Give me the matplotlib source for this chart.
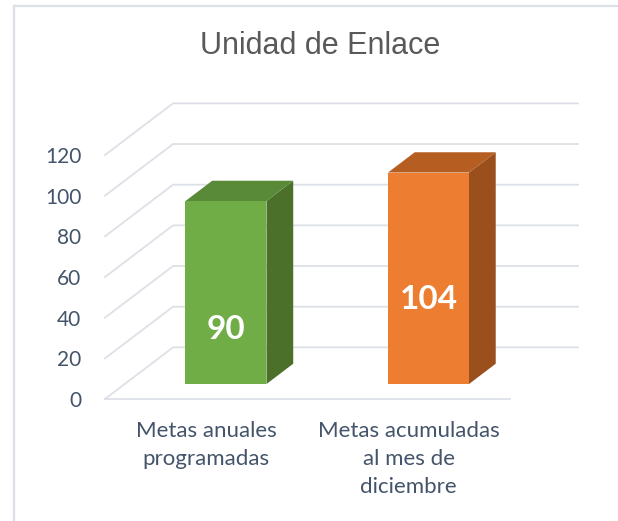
import matplotlib
matplotlib.use("Agg")
import matplotlib.pyplot as plt
from matplotlib.patches import Polygon

# data
categories = ["Metas anuales\nprogramadas", "Metas acumuladas\nal mes de\ndiciembre"]
values = [90, 104]
yticks = [0, 20, 40, 60, 80, 100, 120]
title = "Unidad de Enlace"

# colours: front, top, side
front_cols = ["#70AD47", "#ED7D31"]
top_cols = ["#588A37", "#B65E22"]
side_cols = ["#4A7029", "#9A4F1D"]
grid_col = "#DDE1E7"
text_col = "#44546A"

# fake 3d: point at depth d moves by (d*DX, d*DY) in data units
DX, DY = 0.336, 25.4
BAR_W = 0.40
D_FRONT, D_BACK = 0.29, 0.683
label_frac = [0.30, 0.40]


def p(x, y, d):
    return (x + d * DX, y + d * DY)


fig = plt.figure(figsize=(6.18, 5.21), dpi=100)
ax = fig.add_axes([105 / 618, 122 / 521, 405 / 618, 244 / 521])
ax.set_xlim(-0.5, 1.5)
ax.set_ylim(0, 120)
for s in ax.spines.values():
    s.set_visible(False)

# gridlines: side diagonal + back wall
for v in yticks:
    x0 = -0.5
    ax.plot([p(x0, v, 0)[0], p(x0, v, 1)[0], p(1.5, v, 1)[0]],
            [p(x0, v, 0)[1], p(x0, v, 1)[1], p(1.5, v, 1)[1]],
            color=grid_col, lw=1.3, clip_on=False, zorder=1,
            solid_joinstyle="miter")
# floor front edge
ax.plot([-0.5, 1.5], [0, 0], color=grid_col, lw=1.3, clip_on=False, zorder=1)

for i, v in enumerate(values):
    l, r = i - BAR_W / 2, i + BAR_W / 2
    front = [p(l, 0, D_FRONT), p(r, 0, D_FRONT), p(r, v, D_FRONT), p(l, v, D_FRONT)]
    top = [p(l, v, D_FRONT), p(r, v, D_FRONT), p(r, v, D_BACK), p(l, v, D_BACK)]
    side = [p(r, 0, D_FRONT), p(r, 0, D_BACK), p(r, v, D_BACK), p(r, v, D_FRONT)]
    ax.add_patch(Polygon(side, closed=True, facecolor=side_cols[i], edgecolor="none",
                         clip_on=False, zorder=3))
    ax.add_patch(Polygon(top, closed=True, facecolor=top_cols[i], edgecolor="none",
                         clip_on=False, zorder=3))
    ax.add_patch(Polygon(front, closed=True, facecolor=front_cols[i], edgecolor="none",
                         clip_on=False, zorder=4))
    lx, ly = p(i, v * label_frac[i], D_FRONT)
    ax.text(lx, ly, str(v), ha="center", va="center", color="white",
            fontsize=24, fontweight="bold", family="Lato", zorder=5)

ax.set_yticks(yticks)
ax.set_yticklabels([str(t) for t in yticks], family="Lato", fontsize=15,
                   color=text_col)
ax.set_xticks(range(len(categories)))
ax.set_xticklabels(categories, family="Lato", fontsize=16, color=text_col,
                   linespacing=1.5)
ax.tick_params(axis="y", length=0, pad=17)
ax.tick_params(axis="x", length=0, pad=16)

fig.text(320 / 618, 1 - 46 / 521, title, ha="center", va="center",
         family="Liberation Sans", fontsize=22, color="#595959")

# outer frame (left and top edges visible)
fig.add_artist(plt.Line2D([14 / 618, 14 / 618], [0, 1 - 6 / 521],
                          transform=fig.transFigure, color="#DCE1E7", lw=1.6))
fig.add_artist(plt.Line2D([14 / 618, 1], [1 - 6 / 521, 1 - 6 / 521],
                          transform=fig.transFigure, color="#DCE1E7", lw=1.6))

fig.savefig("out.png", dpi=100)
